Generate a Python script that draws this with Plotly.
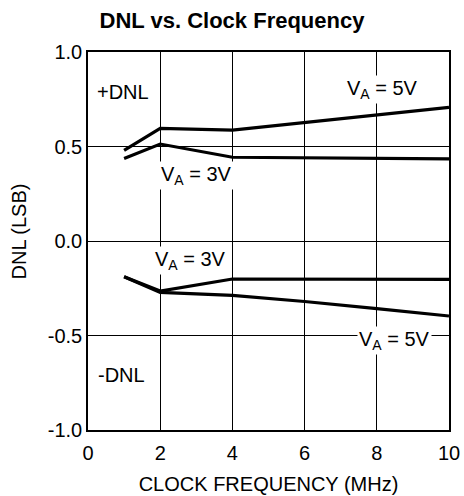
import plotly.graph_objects as go

freq = [1, 2, 4, 6, 8, 10]
pos_5v = [0.48, 0.596, 0.587, 0.627, 0.667, 0.707]
pos_3v = [0.437, 0.513, 0.443, 0.440, 0.437, 0.434]
neg_3v = [-0.189, -0.265, -0.201, -0.202, -0.202, -0.203]
neg_5v = [-0.189, -0.272, -0.288, -0.32, -0.358, -0.397]

x_ticks = [0, 2, 4, 6, 8, 10]
y_ticks = [-1.0, -0.5, 0.0, 0.5, 1.0]
y_tick_text = ["-1.0", "-0.5", "0.0", "0.5", "1.0"]

FONT = "Liberation Sans, Arial, sans-serif"
fig = go.Figure()
for ys in (pos_5v, pos_3v, neg_3v, neg_5v):
    fig.add_trace(go.Scatter(x=freq, y=ys, mode="lines",
                             line=dict(color="black", width=3.2), showlegend=False,
                             hoverinfo="skip"))

ann = [
    dict(x=0.2, y=0.79, text="+DNL", xanchor="left"),
    dict(x=8.15, y=0.8, text="V<sub>A</sub> = 5V", xanchor="center"),
    dict(x=3.0, y=0.345, text="V<sub>A</sub> = 3V", xanchor="center"),
    dict(x=2.83, y=-0.105, text="V<sub>A</sub> = 3V", xanchor="center"),
    dict(x=8.5, y=-0.528, text="V<sub>A</sub> = 5V", xanchor="center"),
    dict(x=0.23, y=-0.71, text="-DNL", xanchor="left"),
]
for a in ann:
    fig.add_annotation(x=a["x"], y=a["y"], text=a["text"], xanchor=a["xanchor"],
                       yanchor="middle", showarrow=False, bgcolor="white",
                       borderpad=1, font=dict(family=FONT, size=20, color="black"))

# y-axis title placed as rotated text, slightly above the plot's centre as in the reference
fig.add_annotation(xref="paper", yref="paper", x=(18.5 - 88) / 361, y=(430 - 232) / 378,
                   text="DNL (LSB)", textangle=-90, showarrow=False,
                   xanchor="center", yanchor="middle",
                   font=dict(family=FONT, size=20, color="black"))

fig.update_layout(
    width=464, height=496, autosize=False,
    margin=dict(l=88, r=15, t=52, b=66, autoexpand=False),
    paper_bgcolor="white", plot_bgcolor="white",
    title=dict(text="<b>DNL vs. Clock Frequency</b>", x=0.5, xanchor="center",
               y=1 - 20 / 496, yanchor="middle",
               font=dict(family=FONT, size=22, color="black")),
    font=dict(family=FONT, size=20, color="black"),
    xaxis=dict(range=[0, 10], tickvals=x_ticks, showgrid=True, gridcolor="black",
               gridwidth=1, zeroline=False, showline=True, linecolor="black",
               linewidth=1.5, mirror=True, ticks="", ticklen=0, automargin=False,
               ticklabelstandoff=4,
               title=dict(text="CLOCK FREQUENCY (MHz)", standoff=14,
                          font=dict(family=FONT, size=20))),
    yaxis=dict(range=[-1.0, 1.0], tickvals=y_ticks, ticktext=y_tick_text,
               showgrid=True, gridcolor="black", gridwidth=1, zeroline=False,
               showline=True, linecolor="black", linewidth=1.5, mirror=True,
               ticks="", automargin=False),
)
fig.write_html("out.html", config={"displayModeBar": False},
               post_script="document.body.style.margin='0px';")
